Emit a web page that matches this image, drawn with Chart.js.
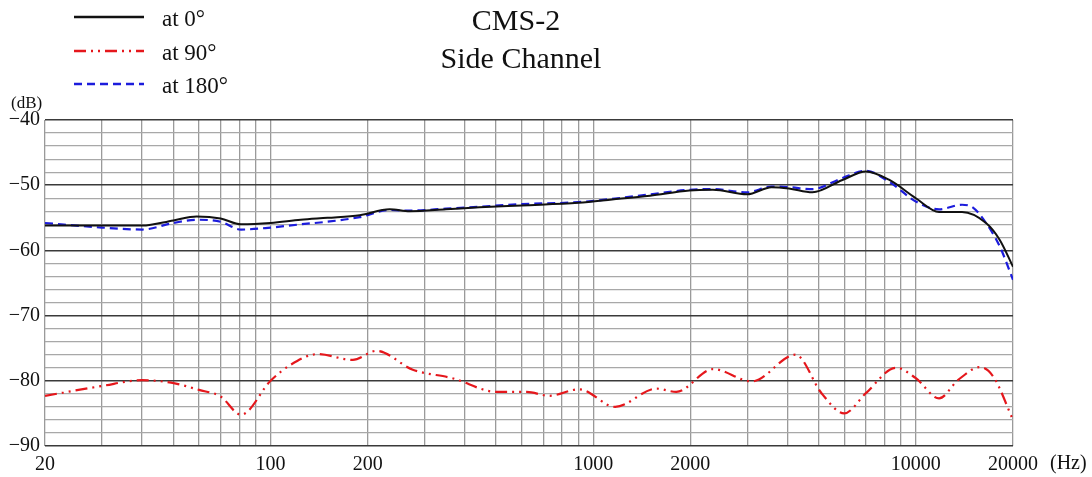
<!DOCTYPE html>
<html>
<head>
<meta charset="utf-8">
<script src="https://cdn.jsdelivr.net/npm/chart.js@4/dist/chart.umd.min.js"></script>
<style>
  html, body { margin: 0; padding: 0; background: #fff; }
  #wrap { width: 1092px; height: 477px; }
</style>
</head>
<body>
<div id="wrap"><canvas id="myChart"></canvas></div>
<script>
const xTicks = [20, 30, 40, 50, 60, 70, 80, 90, 100, 200, 300, 400, 500, 600, 700, 800, 900,
    1000, 2000, 3000, 4000, 5000, 6000, 7000, 8000, 9000, 10000, 20000];
const xLabels = [20, 100, 200, 1000, 2000, 10000, 20000];

const freq0 = [20, 30, 40, 50, 59, 70, 81, 100, 124, 150, 189, 234, 270, 350, 444, 600, 900, 1144, 1500,
    1986, 2350, 3000, 3570, 4040, 4780, 5920, 7000, 8280, 10000, 11800, 13900, 16500, 18200, 20000];
const db0 = [-56.2, -56.2, -56.2, -55.4, -54.8, -55.1, -56.0, -55.8, -55.3, -55.0, -54.6, -53.7, -54.0, -53.7,
    -53.4, -53.1, -52.7, -52.2, -51.6, -50.8, -50.7, -51.4, -50.3, -50.5, -51.1, -49.2, -47.9, -49.2, -52.0,
    -54.1, -54.1, -55.8, -58.4, -62.5];

const freq90 = [20, 30, 40, 50.5, 60, 70, 81, 100, 115, 140, 180, 213, 276, 366, 502, 622, 730, 905, 1170,
    1570, 1810, 2350, 3100, 4240, 5100, 6000, 7000, 8680, 10000, 11800, 13500, 15800, 17400, 20000];
const db90 = [-82.3, -80.8, -79.9, -80.4, -81.4, -82.4, -85.2, -80.0, -77.6, -75.9, -76.8, -75.4, -78.3, -79.6,
    -81.7, -81.7, -82.3, -81.3, -84.0, -81.2, -81.7, -78.2, -80.1, -76.0, -81.9, -85.0, -81.9, -78.0, -79.6,
    -82.7, -79.9, -77.9, -79.4, -86.0];

const freq180 = [20, 30, 40, 50, 59, 70, 81, 100, 124, 150, 189, 234, 270, 350, 444, 600, 900, 1144, 1500,
    1986, 2350, 3000, 3570, 4040, 4780, 5920, 7000, 8280, 10000, 11800, 13900, 15000, 16500, 18200, 20000];
const db180 = [-55.8, -56.5, -56.8, -55.8, -55.3, -55.6, -56.8, -56.5, -56.0, -55.6, -54.9, -53.8, -53.9, -53.6,
    -53.3, -52.9, -52.6, -52.1, -51.4, -50.7, -50.6, -51.1, -50.2, -50.3, -50.6, -48.9, -47.8, -49.5, -52.5,
    -53.7, -53.0, -53.4, -55.8, -59.4, -64.5];

const serif = '"Liberation Serif", "DejaVu Serif", serif';

function toPoints(xs, ys) {
    return xs.map((f, i) => ({ x: f, y: ys[i] }));
}

// title, legend, unit labels
const extras = {
    id: 'extras',
    afterDraw(chart) {
        const ctx = chart.ctx;
        ctx.save();
        ctx.fillStyle = '#111';
        ctx.textBaseline = 'middle';
        ctx.textAlign = 'center';
        ctx.font = '30px ' + serif;
        ctx.fillText('CMS-2', 516, 22);
        ctx.fillText('Side Channel', 521, 60);

        const lineY = [17, 51, 84];
        chart.data.datasets.forEach((ds, i) => {
            ctx.strokeStyle = ds.borderColor;
            ctx.lineWidth = 2.4;
            ctx.setLineDash(ds.borderDash || []);
            ctx.beginPath();
            ctx.moveTo(74, lineY[i]);
            ctx.lineTo(144, lineY[i]);
            ctx.stroke();
            ctx.setLineDash([]);
            ctx.textAlign = 'left';
            ctx.font = '23px ' + serif;
            ctx.fillStyle = '#111';
            ctx.fillText(ds.label, 162, lineY[i] + 3);
        });

        ctx.font = '17px ' + serif;
        ctx.textAlign = 'left';
        ctx.fillText('(dB)', 11, 104);
        ctx.font = '20px ' + serif;
        ctx.fillText('(Hz)', 1050, 464);
        ctx.restore();
    }
};

const ctx = document.getElementById('myChart').getContext('2d');
const myChart = new Chart(ctx, {
    type: 'line',
    data: {
        datasets: [{
                label: 'at 0°',
                data: toPoints(freq0, db0),
                borderColor: '#111111',
                borderWidth: 2,
                pointRadius: 0,
                cubicInterpolationMode: 'monotone'
            },
            {
                label: 'at 90°',
                data: toPoints(freq90, db90),
                borderColor: '#e5171c',
                borderWidth: 2.2,
                borderDash: [12, 5, 2, 5, 2, 5],
                pointRadius: 0,
                cubicInterpolationMode: 'monotone'
            },
            {
                label: 'at 180°',
                data: toPoints(freq180, db180),
                borderColor: '#1c1cdc',
                borderWidth: 2.2,
                borderDash: [8, 5],
                pointRadius: 0,
                cubicInterpolationMode: 'monotone'
            }
        ]
    },
    options: {
        responsive: true,
        maintainAspectRatio: false,
        animation: false,
        layout: { padding: { top: 120, right: 79, left: 0, bottom: 0 } },
        plugins: {
            legend: { display: false },
            title: { display: false },
            tooltip: { enabled: false }
        },
        scales: {
            x: {
                type: 'logarithmic',
                min: 20,
                max: 20000,
                afterBuildTicks(axis) {
                    axis.ticks = xTicks.map(v => ({ value: v }));
                },
                afterFit(axis) {
                    axis.height = 31;
                },
                ticks: {
                    autoSkip: false,
                    maxRotation: 0,
                    padding: 7,
                    color: '#111',
                    font: { family: serif, size: 20 },
                    callback: (v) => xLabels.includes(v) ? String(v) : ''
                },
                grid: {
                    color: '#9a9a9a',
                    lineWidth: 1.3,
                    drawTicks: false
                },
                border: { display: false }
            },
            y: {
                min: -90,
                max: -40,
                afterFit(axis) {
                    axis.width = 45;
                },
                ticks: {
                    stepSize: 2,
                    autoSkip: false,
                    padding: 5,
                    color: '#111',
                    font: { family: serif, size: 20 },
                    callback: (v) => v % 10 === 0 ? '\u2212' + Math.abs(v) : ''
                },
                grid: {
                    color: (c) => c.tick && c.tick.value % 10 === 0 ? '#3a3a3a' : '#a8a8a8',
                    lineWidth: (c) => c.tick && c.tick.value % 10 === 0 ? 1.6 : 1.2,
                    drawTicks: false
                },
                border: { display: false }
            }
        }
    },
    plugins: [extras]
});
</script>
</body>
</html>
